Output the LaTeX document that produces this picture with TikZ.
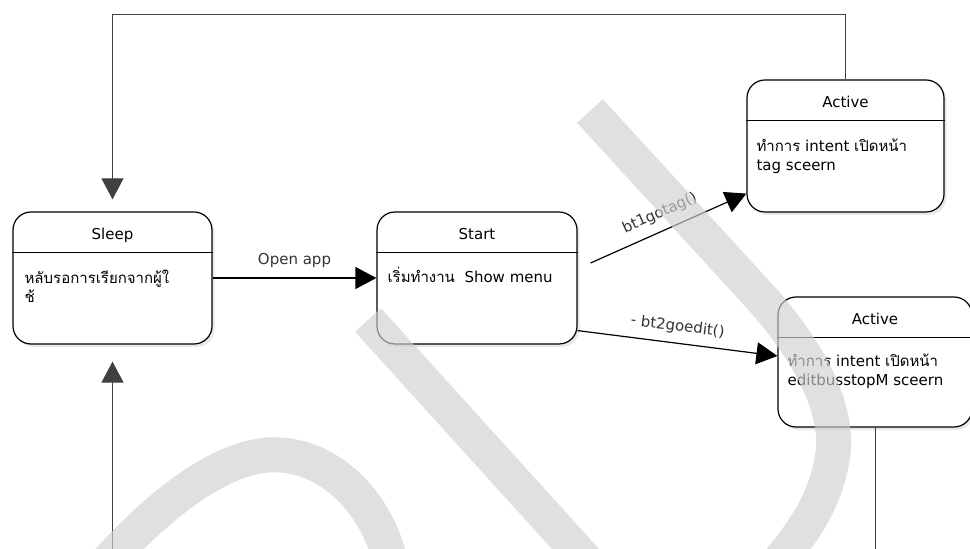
\documentclass[tikz,border=0pt]{standalone}
\usepackage{fontspec}
\setmainfont{DejaVu Sans}
\newfontfamily\thaifont[Script=Thai]{Loma}
\newcommand{\thai}[1]{{\thaifont #1}}
\definecolor{wmgray}{RGB}{208,208,208}
\usetikzlibrary{arrows.meta, positioning, shadows}

\begin{document}
\begin{tikzpicture}[x=1pt, y=1pt, font=\fontsize{15}{19}\selectfont,
  state/.style={draw, line width=1.2pt, rounded corners=18pt, fill=white, minimum height=132pt, drop shadow={opacity=0.18, shadow xshift=2.5pt, shadow yshift=-3pt}},
  ttl/.style={anchor=base},
  body/.style={anchor=base west, align=left, inner sep=0pt, font={\fontsize{15}{19}\selectfont\setlength{\lineskiplimit}{-20pt}}},
  tr/.style={line width=1.2pt, -{Triangle[length=21pt, width=22pt]}},
  back/.style={line width=0.9pt, draw=black!75, -{Triangle[length=21pt, width=22pt]}},
  lbl/.style={text=black!80, inner sep=0pt},
  wm/.style={line width=35pt, draw=wmgray, draw opacity=0.65}]
\useasboundingbox (0,0) rectangle (970,549);
% states
\node[state, minimum width=199pt] (sleep) at (112.5,271) {};
\node[state, minimum width=200pt] (start) at (477,271) {};
\node[state, minimum width=197pt] (act1) at (845.5,403) {};
\node[state, minimum width=194pt, minimum height=130pt] (act2) at (875,187) {};
\foreach \s/\t in {sleep/Sleep, start/Start, act1/Active, act2/Active}{\node[ttl] (\s-ttl) at ([yshift=-28pt]\s.north) {\t};\draw[line width=0.9pt] ([yshift=-41pt]\s.north west) -- ([yshift=-41pt]\s.north east);}
% bodies (base = last line)
\node[body] (sleep-txt) at ([shift={(12pt,-91pt)}]sleep.north west) {\thai{หลับรอการเรียกจากผู้ใ}\\\thai{ช้}};
\node[body] (start-txt) at ([shift={(11pt,-71pt)}]start.north west) {\thai{เริ่มทำงาน}\ \ Show menu};
\node[body] (act1-txt) at ([shift={(10pt,-91pt)}]act1.north west) {\thai{ทำการ} intent \thai{เปิดหน้า}\\tag sceern};
\node[body] (act2-txt) at ([shift={(10pt,-89pt)}]act2.north west) {\thai{ทำการ} intent \thai{เปิดหน้า}\\editbusstopM sceern};
% transitions
\draw[tr] (sleep) -- node[lbl, yshift=18pt] (open-lbl) {Open app} (start);
\draw[tr] ([shift={(13pt,15pt)}]start.east) -- node[lbl, sloped, above=9.5pt, pos=0.49] (bt1-lbl) {bt1gotag()} ([yshift=19pt]act1.south west);
\draw[tr] ([yshift=14pt]start.south east) -- node[lbl, sloped, above=8.5pt, pos=0.49] (bt2-lbl) {- bt2goedit()} ([yshift=6pt]act2.west);
\draw[back] (act1.north) -- ++(0,65) -| ([yshift=12pt]sleep.north);
\coordinate (floor) at (0,-5);
\coordinate (act2-end) at (act2.south |- floor);
\coordinate (sleep-in) at (sleep.south |- floor);
\draw[back, -] (act2) -- (act2-end);
\draw[back] (sleep-in) -- ([yshift=-17pt]sleep.south);
% watermark
\draw[wm] (368,229) -- (590,-16);
\draw[wm] (590,438) -- (763,249) .. controls (820,184) and (840,129) .. (832,89) .. controls (825,49) and (805,19) .. (780,-11);
\draw[wm] (100,-21) .. controls (180,69) and (240,97) .. (280,94) .. controls (330,91) and (375,49) .. (390,-11);
\end{tikzpicture}
\end{document}
